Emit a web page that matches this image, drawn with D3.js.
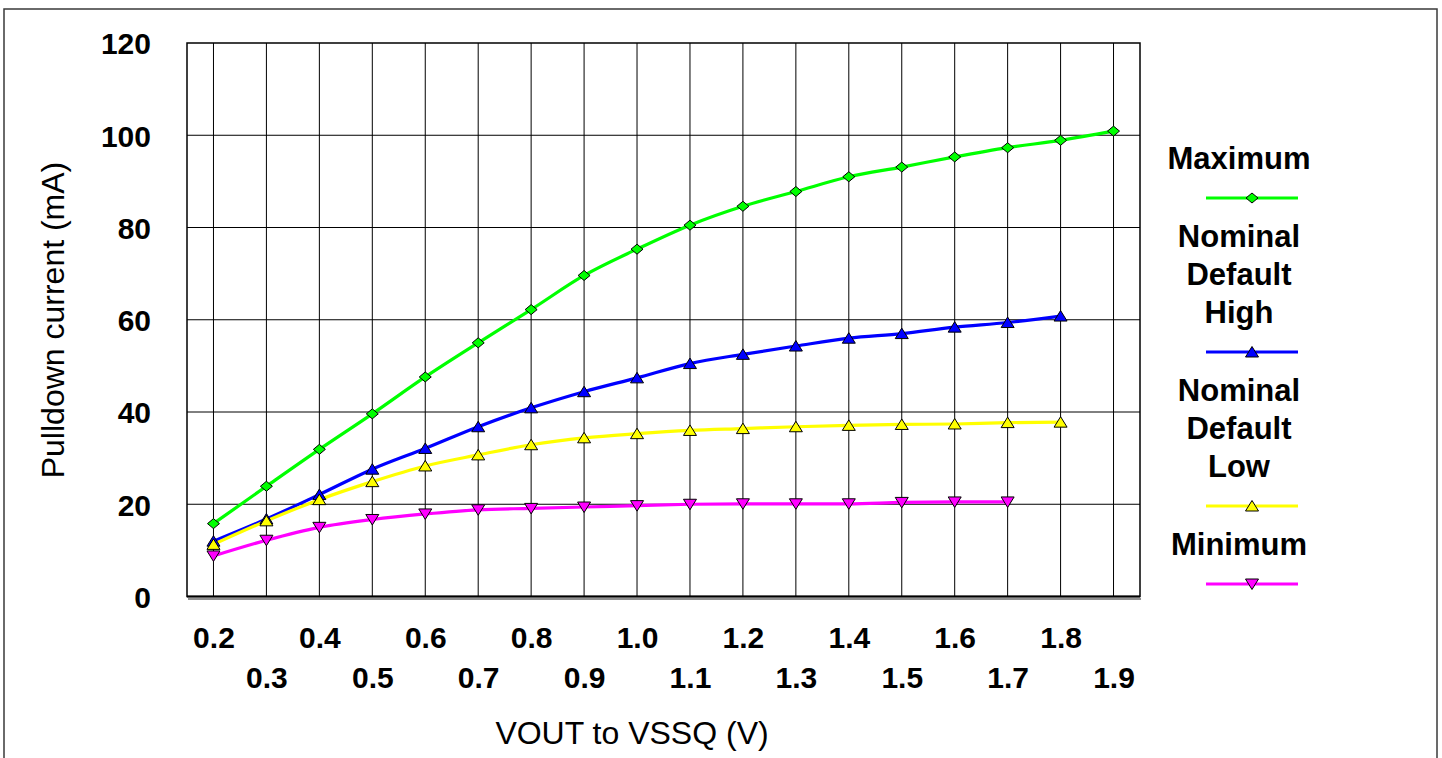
<!DOCTYPE html>
<html>
<head>
<meta charset="utf-8">
<script src="https://cdn.jsdelivr.net/npm/d3@7"></script>
<style>
  html, body { margin: 0; padding: 0; background: #ffffff; }
  svg { display: block; }
  text { font-family: "Liberation Sans", Arial, Helvetica, sans-serif; fill: #000; }
</style>
</head>
<body>
<svg id="chart" width="1442" height="758"></svg>
<script>
// ---------- data ----------
const xCategories = ["0.2","0.3","0.4","0.5","0.6","0.7","0.8","0.9","1.0","1.1","1.2","1.3","1.4","1.5","1.6","1.7","1.8","1.9"];
const yTicks = [0, 20, 40, 60, 80, 100, 120];

const maximumValues     = [15.8, 23.9, 31.9, 39.6, 47.6, 55.0, 62.2, 69.6, 75.3, 80.5, 84.6, 87.8, 91.0, 93.1, 95.3, 97.3, 98.9, 100.9];
const nominalHighValues = [12.0, 16.8, 22.1, 27.6, 32.1, 36.8, 40.9, 44.4, 47.4, 50.5, 52.5, 54.3, 56.0, 57.0, 58.4, 59.4, 60.8];
const nominalLowValues  = [11.3, 16.4, 21.0, 24.9, 28.3, 30.7, 32.9, 34.4, 35.3, 36.0, 36.4, 36.8, 37.1, 37.3, 37.4, 37.7, 37.8];
const minimumValues     = [8.8, 12.2, 15.0, 16.7, 17.9, 18.8, 19.1, 19.4, 19.7, 20.0, 20.1, 20.1, 20.1, 20.4, 20.5, 20.5];

const seriesNames  = ["Maximum", "Nominal Default High", "Nominal Default Low", "Minimum"];
const legendLines  = [["Maximum"], ["Nominal", "Default", "High"], ["Nominal", "Default", "Low"], ["Minimum"]];
const seriesColors = ["#00ff00", "#0000ff", "#ffff00", "#ff00ff"];
const seriesMarkers = ["diamond", "up", "up", "down"];
const seriesValues = [maximumValues, nominalHighValues, nominalLowValues, minimumValues];

const xTitle = "VOUT to VSSQ (V)";
const yTitle = "Pulldown current (mA)";

// ---------- layout ----------
const svg = d3.select("#chart");
const plot = { left: 187, right: 1140, top: 43, bottom: 596.5 };

// outer frame
svg.append("rect")
  .attr("x", 4).attr("y", 9).attr("width", 1433).attr("height", 760)
  .attr("fill", "none").attr("stroke", "#3a3a3a").attr("stroke-width", 1.5);

const x = d3.scalePoint().domain(xCategories).range([plot.left, plot.right]).padding(0.5);
const y = d3.scaleLinear().domain([0, 120]).range([plot.bottom, plot.top]);

// gridlines
const grid = svg.append("g");
grid.selectAll("line.h").data(yTicks.filter(d => d > 0 && d < 120)).join("line")
  .attr("x1", plot.left).attr("x2", plot.right)
  .attr("y1", d => y(d)).attr("y2", d => y(d))
  .attr("stroke", "#000").attr("stroke-width", 1);
grid.selectAll("line.v").data(xCategories).join("line")
  .attr("x1", d => x(d)).attr("x2", d => x(d))
  .attr("y1", plot.top).attr("y2", plot.bottom)
  .attr("stroke", "#000").attr("stroke-width", 1);

// plot frame (bottom shadow)
svg.append("line").attr("x1", plot.left + 1).attr("x2", plot.right + 1)
  .attr("y1", plot.bottom + 2.5).attr("y2", plot.bottom + 2.5)
  .attr("stroke", "#909090").attr("stroke-width", 2);
svg.append("rect")
  .attr("x", plot.left).attr("y", plot.top)
  .attr("width", plot.right - plot.left).attr("height", plot.bottom - plot.top)
  .attr("fill", "none").attr("stroke", "#000").attr("stroke-width", 1.5);
svg.append("line").attr("x1", plot.left).attr("x2", plot.right)
  .attr("y1", plot.bottom).attr("y2", plot.bottom)
  .attr("stroke", "#000").attr("stroke-width", 2);

// y axis labels
const yAxis = d3.axisLeft(y).tickValues(yTicks).tickSize(0).tickPadding(0).tickFormat(d3.format("d"));
const yAxisG = svg.append("g").attr("transform", `translate(151,0)`).call(yAxis);
yAxisG.select(".domain").remove();
yAxisG.selectAll("text")
  .attr("font-family", "'Liberation Sans', Arial, sans-serif")
  .attr("font-size", 30).attr("font-weight", "bold").attr("fill", "#000")
  .attr("dy", "0.36em");

// x axis labels (staggered)
const xAxis = d3.axisBottom(x).tickSize(0).tickPadding(0);
const xAxisG = svg.append("g").attr("transform", `translate(0,0)`).call(xAxis);
xAxisG.select(".domain").remove();
xAxisG.selectAll(".tick text")
  .attr("font-family", "'Liberation Sans', Arial, sans-serif")
  .attr("font-size", 30).attr("font-weight", "bold").attr("fill", "#000")
  .attr("dy", null)
  .attr("y", (d, i) => i % 2 === 0 ? 648 : 688);

// axis titles
svg.append("text")
  .attr("x", 632).attr("y", 744)
  .attr("text-anchor", "middle")
  .attr("font-size", 32)
  .text(xTitle);
svg.append("text")
  .attr("transform", "translate(64,320) rotate(-90)")
  .attr("text-anchor", "middle")
  .attr("font-size", 32)
  .text(yTitle);

// marker shapes
function markerPath(type) {
  if (type === "diamond") return "M0,-5 L6,0 L0,5 L-6,0 Z";
  if (type === "up") return "M0,-5.5 L6.5,5 L-6.5,5 Z";
  return "M0,5.5 L6.5,-5 L-6.5,-5 Z";
}

// series lines
const line = d3.line().x((d, i) => x(xCategories[i])).y(d => y(d)).curve(d3.curveMonotoneX);
const linesG = svg.append("g");
seriesValues.forEach((vals, s) => {
  linesG.append("path")
    .datum(vals)
    .attr("d", line)
    .attr("fill", "none")
    .attr("stroke", seriesColors[s])
    .attr("stroke-width", 3.2)
    .attr("stroke-linejoin", "round");
});
const markersG = svg.append("g");
seriesValues.forEach((vals, s) => {
  markersG.append("g").selectAll("path").data(vals).join("path")
    .attr("transform", (d, i) => `translate(${x(xCategories[i])},${y(d)})`)
    .attr("d", markerPath(seriesMarkers[s]))
    .attr("fill", seriesColors[s])
    .attr("stroke", "#000").attr("stroke-width", 1);
});

// legend
const legend = svg.append("g");
const legendTextX = 1239;
const legendLineX1 = 1206, legendLineX2 = 1298;
let cy = 169;
seriesNames.forEach((name, s) => {
  const lines = legendLines[s];
  lines.forEach((ln, j) => {
    legend.append("text")
      .attr("x", legendTextX).attr("y", cy + j * 38)
      .attr("text-anchor", "middle")
      .attr("font-size", 31).attr("font-weight", "bold")
      .text(ln);
  });
  const ly = cy + (lines.length - 1) * 38 + 29;
  legend.append("line")
    .attr("x1", legendLineX1).attr("x2", legendLineX2)
    .attr("y1", ly).attr("y2", ly)
    .attr("stroke", seriesColors[s]).attr("stroke-width", 3);
  legend.append("path")
    .attr("transform", `translate(${(legendLineX1 + legendLineX2) / 2},${ly})`)
    .attr("d", markerPath(seriesMarkers[s]))
    .attr("fill", seriesColors[s])
    .attr("stroke", "#000").attr("stroke-width", 1);
  cy = ly + 49;
});
</script>
</body>
</html>
